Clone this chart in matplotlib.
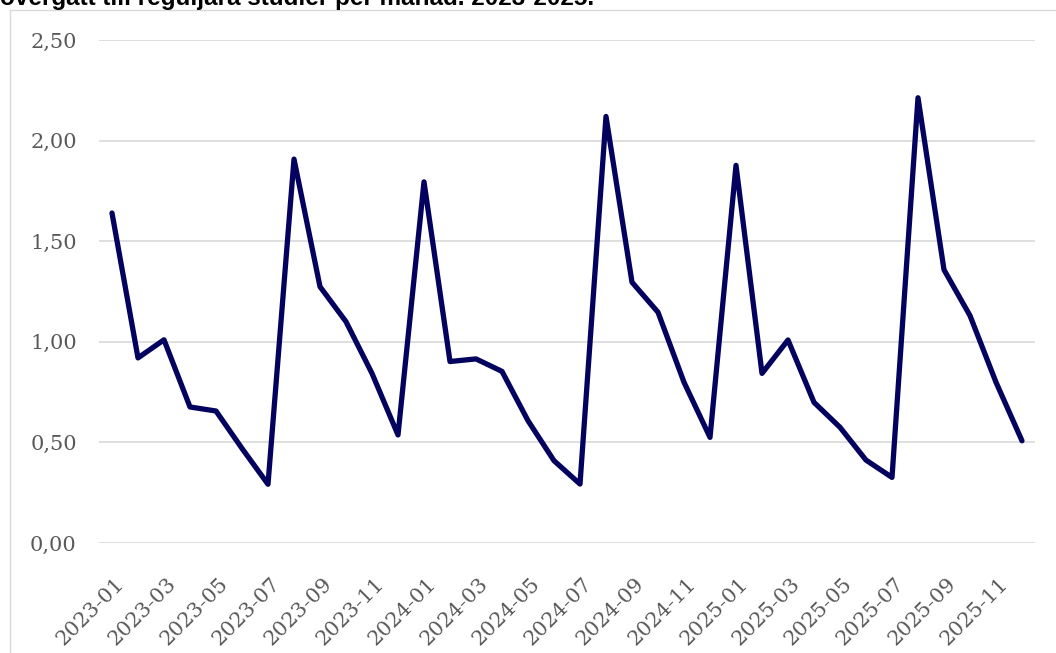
import matplotlib
matplotlib.use("Agg")
import matplotlib.pyplot as plt
import matplotlib.transforms as mtransforms
from matplotlib.patches import Rectangle

# Månader 2023-01 .. 2025-12
months = [f"{y}-{m:02d}" for y in (2023, 2024, 2025) for m in range(1, 13)]

values_2023 = [1.64, 0.92, 1.01, 0.676, 0.656, 0.47, 0.292, 1.908, 1.274, 1.10, 0.843, 0.537]
values_2024 = [1.795, 0.902, 0.915, 0.853, 0.608, 0.409, 0.293, 2.12, 1.296, 1.147, 0.799, 0.525]
values_2025 = [1.877, 0.843, 1.009, 0.699, 0.575, 0.412, 0.326, 2.213, 1.358, 1.130, 0.799, 0.508]
values = values_2023 + values_2024 + values_2025

y_ticks = [0.0, 0.5, 1.0, 1.5, 2.0, 2.5]
y_tick_labels = ["0,00", "0,50", "1,00", "1,50", "2,00", "2,50"]

title = "övergått till reguljära studier per månad. 2023-2025."

fig = plt.figure(figsize=(10.56, 6.53), dpi=100)

# ram runt diagrammet (går utanför bilden till höger och nedåt)
frame = Rectangle((10 / 1056, -0.1), 1.2, 1 - 10 / 653 + 0.1,
                  transform=fig.transFigure, fill=False,
                  edgecolor="#d9d9d9", linewidth=1.0)
fig.patches.append(frame)

# titeln är avklippt upptill
fig.text(0.0, 1 - 5 / 653, title, fontsize=17.5, fontweight="bold",
         family="Liberation Sans", ha="left", va="baseline", color="black")

ax = fig.add_axes([99 / 1056, 1 - 543 / 653, (1035 - 99) / 1056, (543 - 40) / 653])

x = list(range(len(months)))
ax.plot(x, values, color="#03035f", linewidth=3.8,
        solid_joinstyle="round", solid_capstyle="round", zorder=3)

ax.set_xlim(-0.5, len(months) - 0.5)
ax.set_ylim(0, 2.5)

ax.grid(axis="y", color="#d9d9d9", linewidth=1.2)
ax.set_axisbelow(True)
for side in ax.spines.values():
    side.set_visible(False)
ax.tick_params(axis="both", length=0)
ax.tick_params(axis="y", pad=16)
ax.tick_params(axis="x", pad=22)

ax.set_yticks(y_ticks)
ax.set_yticklabels(y_tick_labels, family="DejaVu Serif", fontsize=15, color="#595959")
ax.set_xticks(x[::2])
ax.set_xticklabels(months[::2], family="DejaVu Serif", fontsize=15, color="#595959",
                   rotation=45, ha="right", va="center", rotation_mode="anchor")

# flytta etiketterna lite åt höger och nedåt, som i originalet
shift = mtransforms.ScaledTranslation(9 / 100, -7 / 100, fig.dpi_scale_trans)
for lbl in ax.get_xticklabels():
    lbl.set_transform(lbl.get_transform() + shift)

fig.savefig("out.png", dpi=100)
